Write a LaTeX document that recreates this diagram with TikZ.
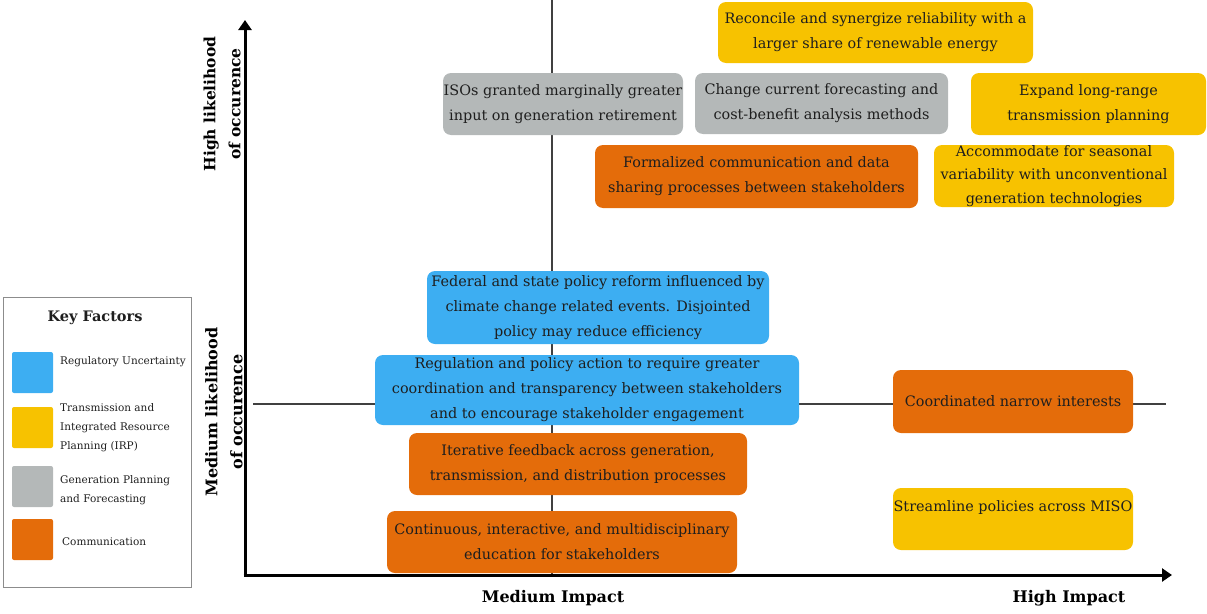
\documentclass[tikz,border=0pt]{standalone}
\usepackage{fontspec}
\setmainfont{DejaVu Serif}
\usepackage{xcolor}
\usetikzlibrary{arrows.meta}
\definecolor{regblue}{HTML}{3DAEF2}
\definecolor{irpyellow}{HTML}{F7C200}
\definecolor{gengray}{HTML}{B4B8B8}
\definecolor{comorange}{HTML}{E46C0A}
\definecolor{inktext}{HTML}{1E1E1E}

\begin{document}
\begin{tikzpicture}[x=1pt,y=-1pt,
    factor/.style={rounded corners=8pt, inner sep=0pt, align=center, text=inktext,
      font=\fontsize{14.4}{25}\selectfont},
    swatch/.style={rounded corners=2pt, minimum size=41pt, inner sep=0pt},
    keytext/.style={anchor=west, align=left, inner sep=0pt, text=inktext,
      font=\fontsize{10.5}{19}\selectfont},
    axislabel/.style={align=center, font=\bfseries\fontsize{15.5}{25}\selectfont},
    guide/.style={draw=black!75, line width=1.2pt},
    axisline/.style={line width=3pt, -{Triangle[length=10pt,width=13pt]}}]
  \useasboundingbox (0,0) rectangle (1207,613);

  % axes and quadrant guides
  \coordinate (origin) at (245,575);
  \coordinate (ytip) at (245,20);
  \coordinate (xtip) at (1172,575);
  \coordinate (vtop) at (552,0);
  \coordinate (vbot) at (552,575);
  \coordinate (hleft) at (253,404);
  \coordinate (hright) at (1166,404);
  \draw[guide] (vtop) -- (vbot);
  \draw[guide] (hleft) -- (hright);

  % factors
  \node[factor, fill=irpyellow, minimum width=315pt, minimum height=61pt] (reconcile) at (875.5,32.5)
    {Reconcile and synergize reliability with a\\larger share of renewable energy};
  \node[factor, fill=gengray, minimum width=240pt, minimum height=62pt] (isos) at (563,104)
    {ISOs granted marginally greater\\input on generation retirement};
  \node[factor, fill=gengray, minimum width=253pt, minimum height=61pt] (forecast) at (821.5,103.5)
    {Change current forecasting and\\cost-benefit analysis methods};
  \node[factor, fill=irpyellow, minimum width=235pt, minimum height=62pt] (expand) at (1088.5,104)
    {Expand long-range\\transmission planning};
  \node[factor, fill=comorange, minimum width=323pt, minimum height=63pt] (formal) at (756.5,176.5)
    {Formalized communication and data\\sharing processes between stakeholders};
  \node[factor, fill=irpyellow, minimum width=240pt, minimum height=62pt,
    font=\fontsize{14.4}{23.5}\selectfont] (seasonal) at (1054,176)
    {Accommodate for seasonal\\variability with unconventional\\generation technologies};
  \node[factor, fill=regblue, minimum width=342pt, minimum height=73pt] (federal) at (598,307.5)
    {Federal and state policy reform influenced by\\climate change related events. Disjointed\\policy may reduce efficiency};
  \node[factor, fill=regblue, minimum width=424pt, minimum height=70pt] (regulation) at (587,390)
    {Regulation and policy action to require greater\\coordination and transparency between stakeholders\\and to encourage stakeholder engagement};
  \node[factor, fill=comorange, minimum width=338pt, minimum height=62pt] (iterative) at (578,464)
    {Iterative feedback across generation,\\transmission, and distribution processes};
  \node[factor, fill=comorange, minimum width=350pt, minimum height=62pt] (education) at (562,542)
    {Continuous, interactive, and multidisciplinary\\education for stakeholders};
  \node[factor, fill=comorange, minimum width=240pt, minimum height=63pt] (narrow) at (1013,401.5)
    {Coordinated narrow interests};
  \node[factor, fill=irpyellow, minimum width=240pt, minimum height=62pt] (streamline) at (1013,519)
    {Streamline policies across MISO\\\mbox{}};

  \draw[axisline] (origin) -- (ytip);
  \draw[axisline] ([xshift=-1.5pt]origin) -- (xtip);

  % axis labels
  \node[axislabel, rotate=90] (highlike) at (222,104) {High likelihood\\of occurence};
  \node[axislabel, rotate=90, font=\bfseries\fontsize{16}{25}\selectfont] (medlike) at (224,412) {Medium likelihood\\of occurence};
  \node[axislabel, font=\bfseries\fontsize{16}{20}\selectfont] (medimpact) at (553,598) {Medium Impact};
  \node[axislabel, font=\bfseries\fontsize{16}{20}\selectfont] (highimpact) at (1069,598) {High Impact};

  % key
  \node[draw=black!45, line width=1pt, minimum width=188pt, minimum height=290pt, inner sep=0pt] (key) at (97,442) {};
  \node[font=\bfseries\fontsize{14.5}{16}\selectfont, text=inktext] (keytitle) at (95,318) {Key Factors};
  \node[swatch, fill=regblue] (keyreg) at (32.5,372.5) {};
  \node[swatch, fill=irpyellow] (keyirp) at (32.5,427.5) {};
  \node[swatch, fill=gengray] (keygen) at (32.5,486.5) {};
  \node[swatch, fill=comorange] (keycom) at (32.5,539.5) {};
  \node[keytext] (keyregtext) at (60,362) {Regulatory Uncertainty};
  \node[keytext] (keyirptext) at (60,428) {Transmission and\\Integrated Resource\\Planning (IRP)};
  \node[keytext] (keygentext) at (60,490.5) {Generation Planning\\and Forecasting};
  \node[keytext] (keycomtext) at (62,542) {Communication};
\end{tikzpicture}
\end{document}
